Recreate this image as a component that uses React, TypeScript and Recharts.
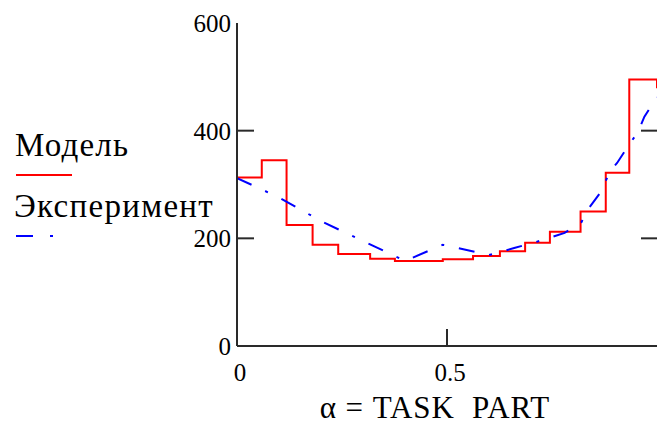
import React from "react";
import { LineChart, Line, XAxis, YAxis, Legend } from "recharts";

// Model: piecewise-constant values (each starts at its x and holds until the next)
const modelX = [0, 0.059, 0.118, 0.18, 0.241, 0.317, 0.376, 0.49, 0.562, 0.626, 0.686, 0.745, 0.818, 0.878, 0.934, 1.0];
const modelY = [313, 345, 225, 188, 171, 162, 158, 161, 167, 176, 192, 212, 250, 322, 495, 479];

// Experiment: measured points joined by straight segments
const expX = [0, 0.1, 0.2, 0.3, 0.4, 0.49, 0.6, 0.66, 0.72, 0.78, 0.82, 0.836, 0.865, 0.89, 0.905, 0.93, 0.955, 0.97, 1.0];
const expY = [312, 276, 232, 195, 158, 188, 169, 182, 195, 210, 230, 254, 285, 327, 340, 370, 398, 426, 462];

const xTicks = [0, 0.5];
const yTicks = [0, 200, 400, 600];
const innerYTicks = [200, 400];
const innerXTicks = [0.5];

const seriesNames = ["Модель", "Эксперимент"];
const xTitle = "α = TASK  PART";

const modelData = modelX.map((x, i) => ({ x, y: modelY[i] }));
const expData = expX.map((x, i) => ({ x, y: expY[i] }));

const FRAME = "#2a2a2a";
const FONT = "'Liberation Serif', 'Times New Roman', serif";
const RED = "#ff0000";
const BLUE = "#0000ff";
const DASH_DOT = "16 15 3 15";

const LeftTick = (props: any) => {
  const { x, y, payload } = props;
  const v = payload.value;
  return (
    <g>
      {innerYTicks.includes(v) && (
        <line x1={x} x2={x + 17} y1={y} y2={y} stroke={FRAME} strokeWidth={2} />
      )}
      <text x={x - 6} y={y + 9} textAnchor="end" fontFamily={FONT} fontSize={25} fill="#000">
        {v}
      </text>
    </g>
  );
};

const RightTick = (props: any) => {
  const { x, y } = props;
  return <line x1={x} x2={x - 16} y1={y} y2={y} stroke={FRAME} strokeWidth={2} />;
};

const BottomTick = (props: any) => {
  const { x, y, payload } = props;
  const v = payload.value;
  return (
    <g>
      {innerXTicks.includes(v) && (
        <line x1={x} x2={x} y1={y} y2={y - 17} stroke={FRAME} strokeWidth={2} />
      )}
      <text x={x + 3} y={y + 35} textAnchor="middle" fontFamily={FONT} fontSize={25} fill="#000">
        {v}
      </text>
    </g>
  );
};

const TopTick = (props: any) => {
  const { x, y, payload } = props;
  if (!innerXTicks.includes(payload.value)) return <g />;
  return <line x1={x} x2={x} y1={y} y2={y + 17} stroke={FRAME} strokeWidth={2} />;
};

const AxisTitle = (props: any) => {
  const vb = props.viewBox || { x: 237, y: 346, width: 420 };
  return (
    <text
      x={vb.x + vb.width / 2 - 12}
      y={vb.y + 72}
      textAnchor="middle"
      fontFamily={FONT}
      fontSize={31}
      letterSpacing={0.9}
      fill="#000"
      style={{ whiteSpace: "pre" }}
    >
      {xTitle}
    </text>
  );
};

const LegendBox = () => (
  <svg width={236} height={130}>
    <text x={15} y={36} fontFamily={FONT} fontSize={33} letterSpacing={1.2} fill="#000">
      {seriesNames[0]}
    </text>
    <line x1={16} x2={72} y1={55} y2={55} stroke={RED} strokeWidth={2} />
    <text x={14} y={97} fontFamily={FONT} fontSize={33} letterSpacing={1.3} fill="#000">
      {seriesNames[1]}
    </text>
    <line x1={16} x2={72} y1={116} y2={116} stroke={BLUE} strokeWidth={2} strokeDasharray="17 17 3 30" />
  </svg>
);

export default function App() {
  return (
    <div style={{ position: "absolute", left: 0, top: 0, width: 658, height: 425, overflow: "hidden", background: "#fff" }}>
      <LineChart width={658} height={425} margin={{ top: 23, right: 0, bottom: 0, left: 0 }}>
        <XAxis
          xAxisId="b"
          type="number"
          dataKey="x"
          domain={[0, 1]}
          allowDataOverflow
          ticks={xTicks}
          orientation="bottom"
          height={79}
          tickSize={0}
          tickMargin={0}
          tickLine={false}
          axisLine={{ stroke: FRAME, strokeWidth: 2 }}
          tick={<BottomTick />}
          label={<AxisTitle />}
        />
        <XAxis
          xAxisId="t"
          type="number"
          dataKey="x"
          domain={[0, 1]}
          allowDataOverflow
          ticks={xTicks}
          orientation="top"
          height={0}
          tickSize={0}
          tickMargin={0}
          tickLine={false}
          axisLine={{ stroke: FRAME, strokeWidth: 2 }}
          tick={<TopTick />}
        />
        <YAxis
          yAxisId="l"
          type="number"
          domain={[0, 600]}
          allowDataOverflow
          ticks={yTicks}
          orientation="left"
          width={237}
          tickSize={0}
          tickMargin={0}
          tickLine={false}
          axisLine={{ stroke: FRAME, strokeWidth: 2 }}
          tick={<LeftTick />}
        />
        <YAxis
          yAxisId="r"
          type="number"
          domain={[0, 600]}
          allowDataOverflow
          ticks={innerYTicks}
          orientation="right"
          width={1}
          tickSize={0}
          tickMargin={0}
          tickLine={false}
          axisLine={false}
          tick={<RightTick />}
        />
        <Legend
          layout="horizontal"
          verticalAlign="middle"
          align="center"
          content={<LegendBox />}
          wrapperStyle={{ left: 0, top: 120, width: 236, height: 130 }}
        />
        <Line
          xAxisId="b"
          yAxisId="l"
          data={modelData}
          dataKey="y"
          type="stepAfter"
          stroke={RED}
          strokeWidth={2}
          dot={false}
          isAnimationActive={false}
        />
        <Line
          xAxisId="b"
          yAxisId="l"
          data={expData}
          dataKey="y"
          type="linear"
          stroke={BLUE}
          strokeWidth={2}
          strokeDasharray={DASH_DOT}
          dot={false}
          isAnimationActive={false}
        />
      </LineChart>
    </div>
  );
}
